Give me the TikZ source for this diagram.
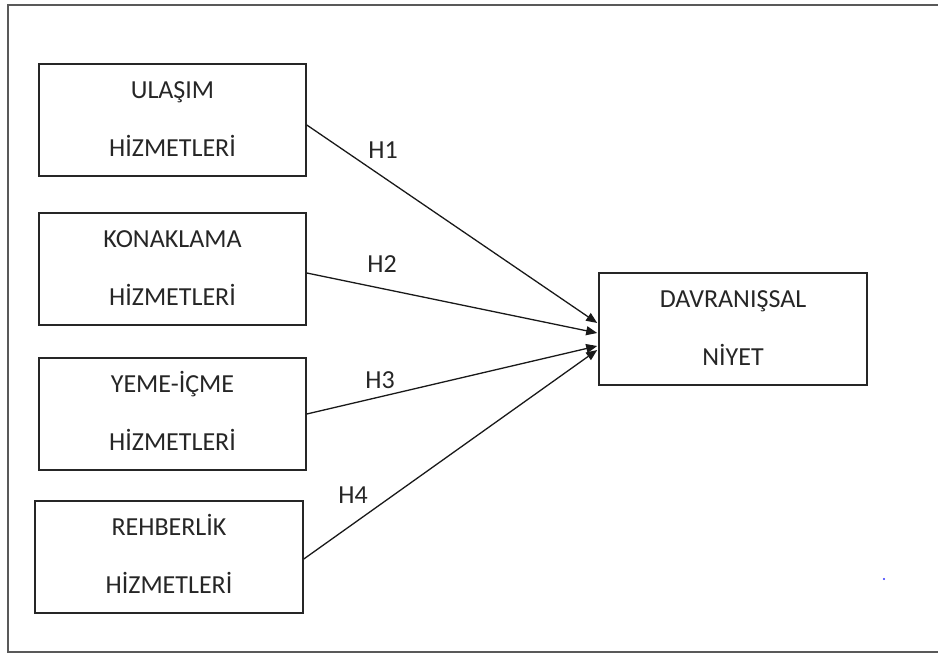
\documentclass[tikz,border=0pt]{standalone}
\usepackage{fontspec}
\setmainfont{Carlito}
\usetikzlibrary{arrows.meta}
\begin{document}
\begin{tikzpicture}[x=1pt,y=-1pt,
  box/.style={draw=black!85,line width=1.6pt,minimum width=267pt,minimum height=112pt,inner sep=0pt},
  lbl/.style={font=\fontsize{26}{30}\selectfont,text=black!85,inner sep=0pt,anchor=base},
  hyp/.style={font=\fontsize{26}{30}\selectfont,text=black!85,inner sep=0pt},
  conn/.style={draw=black!90,line width=1.3pt,-{Triangle[length=11pt,width=9pt]}}]
\useasboundingbox (0,0) rectangle (938,655);
% outer frame (right side outside the picture)
\draw[black!65,line width=1.8pt] (945,5) -- (8,5) -- (8,652) -- (945,652);
% boxes
\node[box] (b1) at (172.5,120) {};
\node[box] (b2) at (172.5,269) {};
\node[box] (b3) at (172.5,414) {};
\node[box,minimum width=268pt] (b4) at (169,557) {};
\node[box,minimum width=268pt] (bn) at (733,329) {};
% texts
\node[lbl] (t1a) at ([yshift=21.5pt]b1.center) {ULAŞIM};
\node[lbl] (t1b) at ([yshift=-36.5pt]b1.center) {HİZMETLERİ};
\node[lbl] (t2a) at ([yshift=21.5pt]b2.center) {KONAKLAMA};
\node[lbl] (t2b) at ([yshift=-36.5pt]b2.center) {HİZMETLERİ};
\node[lbl] (t3a) at ([yshift=21.5pt]b3.center) {YEME-İÇME};
\node[lbl] (t3b) at ([yshift=-36.5pt]b3.center) {HİZMETLERİ};
\node[lbl] (t4a) at ([yshift=21.5pt]b4.center) {REHBERLİK};
\node[lbl] (t4b) at ([yshift=-36.5pt]b4.center) {HİZMETLERİ};
\node[lbl] (tna) at ([yshift=21.5pt]bn.center) {DAVRANIŞSAL};
\node[lbl] (tnb) at ([yshift=-36.5pt]bn.center) {NİYET};
% arrow targets
\coordinate (e1) at ([yshift=6pt,xshift=-1pt]bn.west);
\coordinate (e2) at ([yshift=-4pt,xshift=-1pt]bn.west);
\coordinate (e3) at ([yshift=-17pt,xshift=-1pt]bn.west);
\coordinate (e4) at ([yshift=-21pt,xshift=-1pt]bn.west);
\draw[conn] ([yshift=-5pt]b1.east) -- (e1);
\draw[conn] ([yshift=-4pt]b2.east) -- (e2);
\draw[conn] (b3.east) -- (e3);
\draw[conn] ([yshift=-2pt]b4.east) -- (e4);
% hypothesis labels
\node[hyp] (h1) at (383,150) {H1};
\node[hyp] (h2) at (382,264) {H2};
\node[hyp] (h3) at (380,380) {H3};
\node[hyp] (h4) at (353,495) {H4};
% small blue dot
\fill[blue!80] (884,579) circle (1.2pt);
\end{tikzpicture}
\end{document}
